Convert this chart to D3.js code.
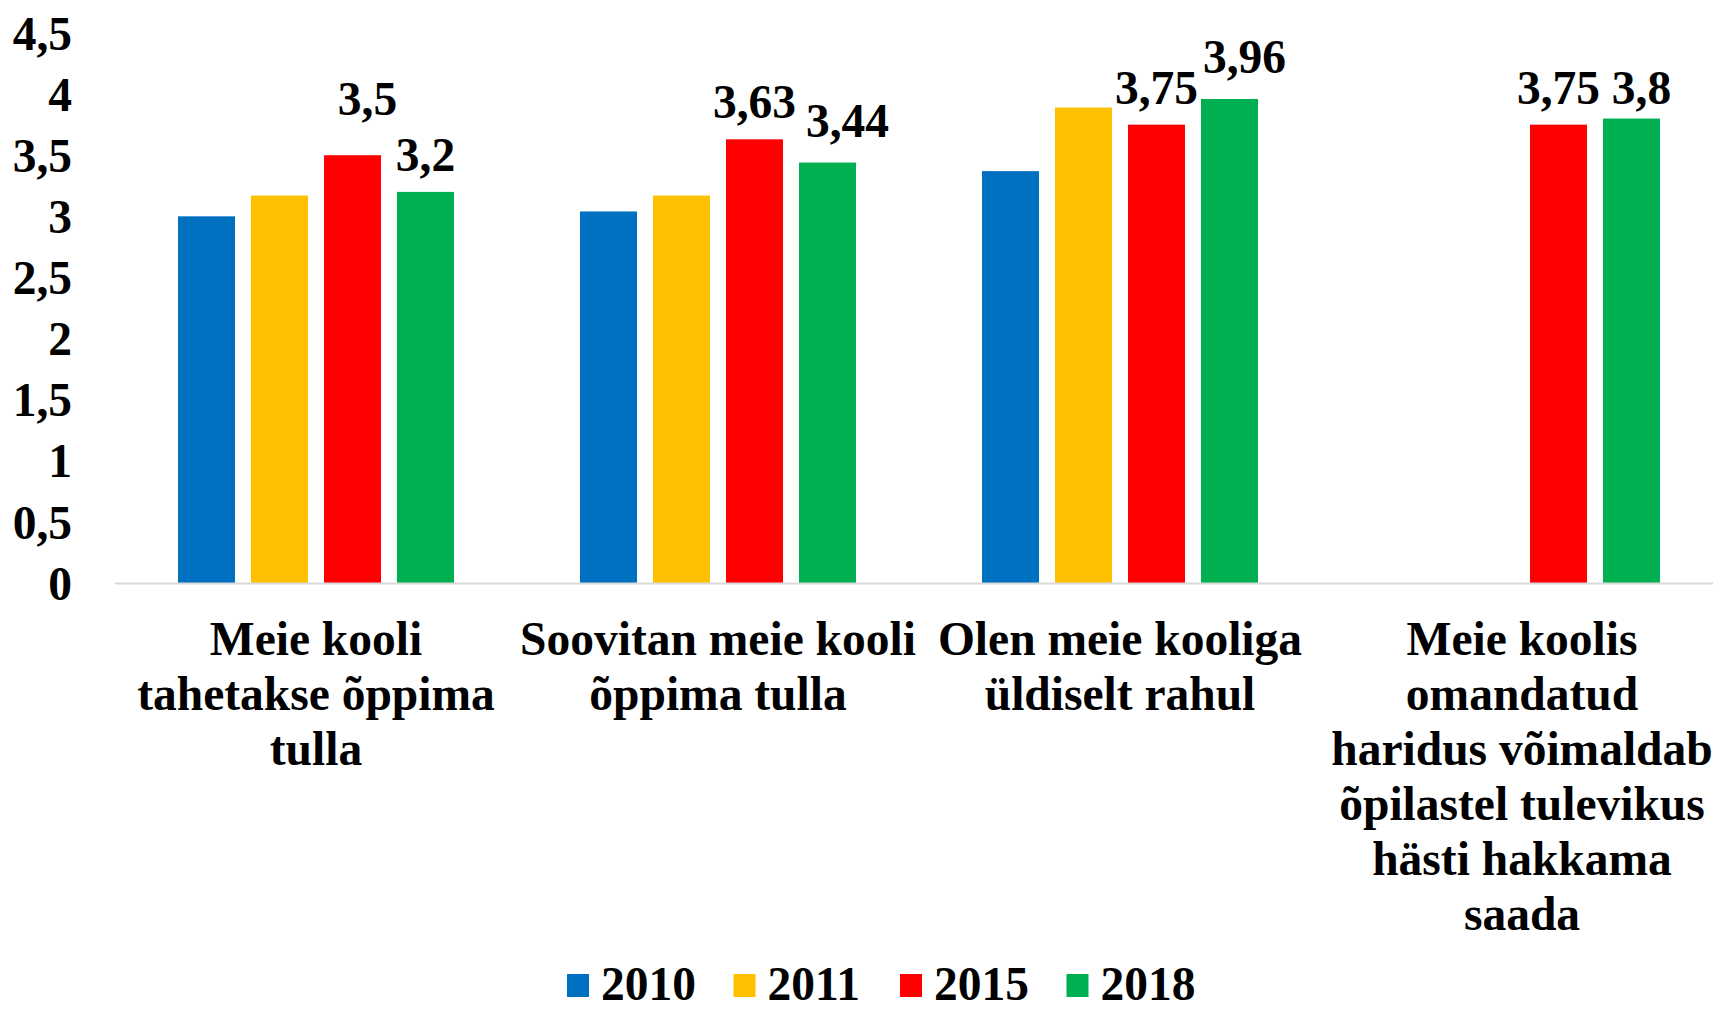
<!DOCTYPE html>
<html>
<head>
<meta charset="utf-8">
<script src="https://cdn.jsdelivr.net/npm/d3@7"></script>
<style>
  body { margin: 0; background: #fff; }
  svg { display: block; }
  text { font-family: "Liberation Serif", "Times New Roman", serif; font-weight: bold; fill: #000; }
</style>
</head>
<body>
<div id="chart"></div>
<script>
// categories (line breaks as in the picture)
const categories = [
    ["Meie kooli", "tahetakse õppima", "tulla"],
    ["Soovitan meie kooli", "õppima tulla"],
    ["Olen meie kooliga", "üldiselt rahul"],
    ["Meie koolis", "omandatud", "haridus võimaldab", "õpilastel tulevikus", "hästi hakkama", "saada"]
];
const years = ["2010", "2011", "2015", "2018"];
const colors = ["#0070c0", "#ffc000", "#ff0000", "#00b050"];

// one value per category, null = no bar
const values2010 = [3.0, 3.04, 3.37, null];
const values2011 = [3.17, 3.17, 3.89, null];
const values2015 = [3.5, 3.63, 3.75, 3.75];
const values2018 = [3.2, 3.44, 3.96, 3.8];

const yTicks = [0, 0.5, 1, 1.5, 2, 2.5, 3, 3.5, 4, 4.5];

// only the 2015 and 2018 series carry data labels
const labelledSeries = ["2015", "2018"];
// manual label nudges (dx, dy) per series, per category, as placed in the original
const labelNudge = {
    "2015": [[15, -19], [0, 0], [0, 0], [0, 0]],
    "2018": [[0, 0], [20, -5], [15, -5], [10, 6]]
};

const seriesValues = [values2010, values2011, values2015, values2018];

const width = 1713, height = 1011;
const margin = { top: 33, left: 115, bottom: 428 };
const fontSize = 47.5;

const svg = d3.select("#chart").append("svg")
    .attr("width", width)
    .attr("height", height);

const x0 = d3.scaleBand()
    .domain(d3.range(categories.length))
    .range([margin.left, margin.left + 402 * categories.length]);

const x1 = d3.scaleBand()
    .domain(years)
    .range([0, x0.bandwidth()])
    .paddingInner(0.219)
    .paddingOuter(0.863);

const y = d3.scaleLinear()
    .domain([0, 4.5])
    .range([height - margin.bottom, margin.top]);

const fmt = v => String(v).replace(".", ",");

// y tick labels
svg.append("g")
    .selectAll("text")
    .data(yTicks)
    .join("text")
        .attr("x", 72)
        .attr("y", d => y(d))
        .attr("dy", "0.35em")
        .attr("text-anchor", "end")
        .style("font-size", fontSize + "px")
        .text(d => fmt(d));

// bars
const rows = [];
years.forEach((yr, s) => {
    seriesValues[s].forEach((v, c) => {
        if (v != null) rows.push({ year: yr, s: s, cat: c, value: v });
    });
});

svg.append("g")
    .selectAll("rect")
    .data(rows)
    .join("rect")
        .attr("x", d => x0(d.cat) + x1(d.year))
        .attr("y", d => y(d.value))
        .attr("width", x1.bandwidth())
        .attr("height", d => y(0) - y(d.value))
        .attr("fill", d => colors[d.s]);

// x axis line
svg.append("line")
    .attr("x1", margin.left)
    .attr("x2", width)
    .attr("y1", y(0) + 0.5)
    .attr("y2", y(0) + 0.5)
    .attr("stroke", "#d9d9d9")
    .attr("stroke-width", 2);

// data labels
svg.append("g")
    .selectAll("text")
    .data(rows.filter(d => labelledSeries.includes(d.year)))
    .join("text")
        .attr("x", d => x0(d.cat) + x1(d.year) + x1.bandwidth() / 2 + labelNudge[d.year][d.cat][0])
        .attr("y", d => y(d.value) - 21 + labelNudge[d.year][d.cat][1])
        .attr("text-anchor", "middle")
        .style("font-size", fontSize + "px")
        .text(d => fmt(d.value));

// category labels
const catG = svg.append("g")
    .selectAll("text")
    .data(categories)
    .join("text")
        .attr("x", (d, i) => x0(i) + x0.bandwidth() / 2)
        .attr("y", 655)
        .attr("text-anchor", "middle")
        .style("font-size", fontSize + "px");

catG.selectAll("tspan")
    .data(d => d)
    .join("tspan")
        .attr("x", function() { return d3.select(this.parentNode).attr("x"); })
        .attr("dy", (d, i) => i === 0 ? 0 : 55)
        .text(d => d);

// legend
const legend = svg.append("g")
    .selectAll("g")
    .data(years)
    .join("g")
        .attr("transform", (d, i) => `translate(${567 + i * 166.5}, 974)`);

legend.append("rect")
    .attr("width", 22)
    .attr("height", 23)
    .attr("fill", (d, i) => colors[i]);

legend.append("text")
    .attr("x", 34)
    .attr("y", 26)
    .style("font-size", fontSize + "px")
    .text(d => d);
</script>
</body>
</html>
